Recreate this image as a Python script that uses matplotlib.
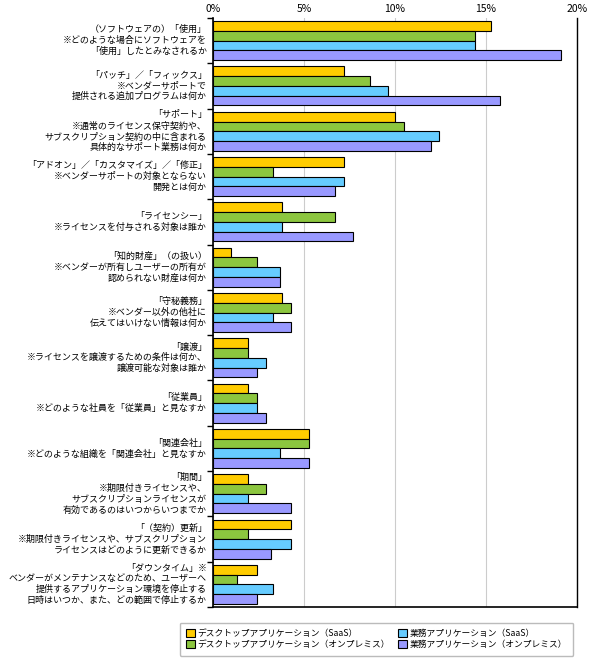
import matplotlib
matplotlib.use("Agg")
import matplotlib.pyplot as plt
import numpy as np

plt.rcParams['font.family'] = ['Noto Sans CJK JP', 'DejaVu Sans']

categories = [
    "（ソフトウェアの）「使用」\n※どのような場合にソフトウェアを\n「使用」したとみなされるか",
    "「パッチ」／「フィックス」\n※ベンダーサポートで\n提供される追加プログラムは何か",
    "「サポート」\n※通常のライセンス保守契約や、\nサブスクリプション契約の中に含まれる\n具体的なサポート業務は何か",
    "「アドオン」／「カスタマイズ」／「修正」\n※ベンダーサポートの対象とならない\n開発とは何か",
    "「ライセンシー」\n※ライセンスを付与される対象は誰か",
    "「知的財産」（の扱い）\n※ベンダーが所有しユーザーの所有が\n認められない財産は何か",
    "「守秘義務」\n※ベンダー以外の他社に\n伝えてはいけない情報は何か",
    "「譲渡」\n※ライセンスを譲渡するための条件は何か、\n譲渡可能な対象は誰か",
    "「従業員」\n※どのような社員を「従業員」と見なすか",
    "「関連会社」\n※どのような組織を「関連会社」と見なすか",
    "「期間」\n※期限付きライセンスや、\nサブスクリプションライセンスが\n有効であるのはいつからいつまでか",
    "「（契約）更新」\n※期限付きライセンスや、サブスクリプション\nライセンスはどのように更新できるか",
    "「ダウンタイム」※\nベンダーがメンテナンスなどのため、ユーザーへ\n提供するアプリケーション環境を停止する\n日時はいつか、また、どの範囲で停止するか",
]
series_names = ["デスクトップアプリケーション（SaaS）", "デスクトップアプリケーション（オンプレミス）",
                "業務アプリケーション（SaaS）", "業務アプリケーション（オンプレミス）"]
desktop_saas = [15.3, 7.2, 10.0, 7.2, 3.8, 1.0, 3.8, 1.9, 1.9, 5.3, 1.9, 4.3, 2.4]
desktop_onprem = [14.4, 8.6, 10.5, 3.3, 6.7, 2.4, 4.3, 1.9, 2.4, 5.3, 2.9, 1.9, 1.3]
business_saas = [14.4, 9.6, 12.4, 7.2, 3.8, 3.7, 3.3, 2.9, 2.4, 3.7, 1.9, 4.3, 3.3]
business_onprem = [19.1, 15.75, 12.0, 6.7, 7.7, 3.7, 4.3, 2.4, 2.9, 5.3, 4.3, 3.2, 2.4]
colors = ["#FFCC00", "#8CC63F", "#66CCFF", "#9999FF"]
xticks = [0, 5, 10, 15, 20]
xticklabels = ["0%", "5%", "10%", "15%", "20%"]

fig = plt.figure(figsize=(5.90, 6.66), dpi=100)
ax = fig.add_axes([213/590, 1-607/666, (577-213)/590, (607-18)/666])
n = len(categories)
y = np.arange(n)
h = 0.215
for i, vals in enumerate([desktop_saas, desktop_onprem, business_saas, business_onprem]):
    ax.barh(y + (i - 1.5) * h, vals, height=h, color=colors[i], edgecolor="black",
            linewidth=0.8, label=series_names[i], zorder=3)
ax.set_ylim(n - 0.5, -0.5)
ax.set_xlim(0, 20)
ax.xaxis.tick_top()
ax.set_xticks(xticks)
ax.set_xticklabels(xticklabels, fontsize=7.5)
ax.tick_params(axis='x', length=0, pad=3)
ax.grid(axis='x', color="#cccccc", linewidth=0.8, zorder=0)
ax.set_yticks(np.arange(n + 1) - 0.5, minor=False)
ax.set_yticklabels([])
ax.tick_params(axis='y', length=4, width=1, direction='out')
for i, c in enumerate(categories):
    ax.text(-0.35, i, c, ha='right', va='center', fontsize=6.5, linespacing=1.25)
for s in ['bottom', 'left']:
    ax.spines[s].set_linewidth(1.2)
ax.spines['right'].set_linewidth(1.0)
ax.spines['top'].set_visible(False)
leg = fig.legend(loc='upper right', bbox_to_anchor=(576/590, 1-620/666), ncol=2,
                 fontsize=6.3, frameon=True, handlelength=1.0, handleheight=1.0,
                 columnspacing=1.0, handletextpad=0.3, borderpad=0.5, labelspacing=0.3)
leg.get_frame().set_edgecolor("#aaaaaa")
leg.get_frame().set_boxstyle("round,pad=0.2")
fig.savefig("out.png", dpi=100)
